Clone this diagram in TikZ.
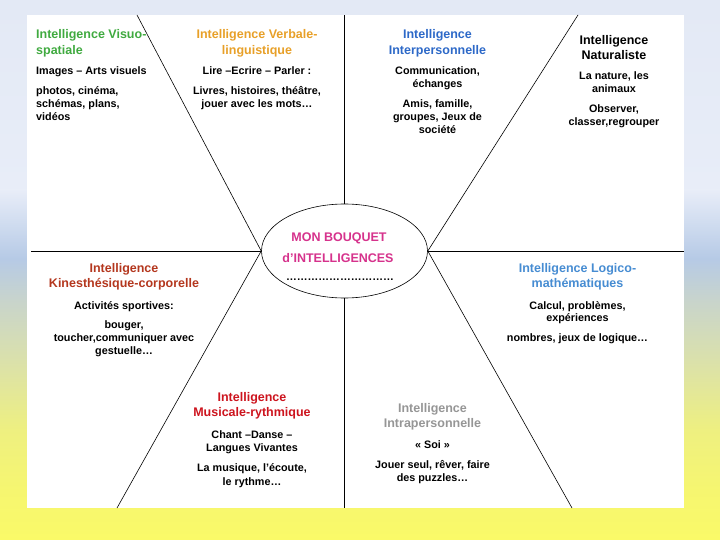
\documentclass[tikz,border=0pt]{standalone}
\usepackage{fontspec}
\setmainfont{Liberation Sans}
\usetikzlibrary{shapes.geometric}
\definecolor{cGreen}{RGB}{64,170,64}
\definecolor{cOrange}{RGB}{232,160,40}
\definecolor{cInter}{RGB}{45,105,200}
\definecolor{cKine}{RGB}{180,55,30}
\definecolor{cMag}{RGB}{214,50,140}
\definecolor{cLogic}{RGB}{70,140,210}
\definecolor{cMusic}{RGB}{205,20,30}
\definecolor{cIntra}{RGB}{150,150,150}
\definecolor{bg0}{HTML}{E3E9F5}
\definecolor{bg1}{HTML}{E8EDF8}
\definecolor{bg2}{HTML}{B6CAE6}
\definecolor{bg3}{HTML}{C8D4CC}
\definecolor{bg4}{HTML}{DCE2A8}
\definecolor{bg5}{HTML}{EEF080}
\definecolor{bg6}{HTML}{F6F670}
\definecolor{bg7}{HTML}{FAFA68}
\begin{document}
\begin{tikzpicture}[x=1pt,y=-1pt,
  hd/.style={font=\bfseries\fontsize{12.5}{14}\selectfont, anchor=base, inner sep=0pt},
  bd/.style={font=\bfseries\fontsize{10.8}{13}\selectfont, anchor=base, inner sep=0pt},
  lft/.style={anchor=base west},
  ray/.style={draw=black, line width=0.6pt}]
\useasboundingbox (0,0) rectangle (720,540);
% background gradient
\shade[top color=bg0, bottom color=bg1, draw=none] (0,0) rectangle (720,190.5);
\shade[top color=bg1, bottom color=bg2, draw=none] (0,190) rectangle (720,258.5);
\shade[top color=bg2, bottom color=bg3, draw=none] (0,258) rectangle (720,300.5);
\shade[top color=bg3, bottom color=bg4, draw=none] (0,300) rectangle (720,365.5);
\shade[top color=bg4, bottom color=bg5, draw=none] (0,365) rectangle (720,430.5);
\shade[top color=bg5, bottom color=bg6, draw=none] (0,430) rectangle (720,490.5);
\shade[top color=bg6, bottom color=bg7, draw=none] (0,490) rectangle (720,540);
% white panel
\fill[white] (27,15) rectangle (684,508);
% center ellipse
\node[draw, line width=0.6pt, ellipse, minimum width=166pt, minimum height=94pt, inner sep=0pt] (bq) at (344.5,251) {};
\coordinate (tl) at (137,15);
\coordinate (bl) at (117,508);
\coordinate (tr) at (578,15);
\coordinate (br) at (572,508);
\coordinate (hl) at (31,251);
\coordinate (hr) at (684,251);
\coordinate (vt) at (344.5,15);
\coordinate (vb) at (344.5,508);
\draw[ray] (bq.west) -- (tl);
\draw[ray] (bq.west) -- (bl);
\draw[ray, line width=0.8pt] (bq.west) -- (hl);
\draw[ray] (bq.east) -- (tr);
\draw[ray] (bq.east) -- (br);
\draw[ray, line width=0.8pt] (bq.east) -- (hr);
\draw[ray, line width=0.8pt] (bq.north) -- (vt);
\draw[ray, line width=0.8pt] (bq.south) -- (vb);
% center text
\node[hd, text=cMag] (c1) at (339,241.5) {MON BOUQUET};
\node[hd, text=cMag] (c2) at (338,262.5) {d’INTELLIGENCES};
\node[bd] (c3) at (340,280) {{…}{…}{…}{…}{…}{…}{…}{…}{…}{…}};
% Visuo-spatiale
\node[hd, lft, text=cGreen] (v1) at (36,38.5) {Intelligence Visuo-};
\node[hd, lft, text=cGreen] (v2) at (36,54.5) {spatiale};
\node[bd, lft] (v3) at (36,75) {Images – Arts visuels};
\node[bd, lft] (v4) at (36,95) {photos, cinéma,};
\node[bd, lft] (v5) at (36,108) {schémas, plans,};
\node[bd, lft] (v6) at (36,121) {vidéos};
% Verbale-linguistique
\node[hd, text=cOrange] (w1) at (257,38.5) {Intelligence Verbale-};
\node[hd, text=cOrange] (w2) at (257,54.5) {linguistique};
\node[bd] (w3) at (257,75) {Lire –Ecrire – Parler :};
\node[bd] (w4) at (257,95) {Livres, histoires, théâtre,};
\node[bd] (w5) at (257,108) {jouer avec les mots…};
% Interpersonnelle
\node[hd, text=cInter] (p1) at (437.5,38.5) {Intelligence};
\node[hd, text=cInter] (p2) at (437.5,54.5) {Interpersonnelle};
\node[bd] (p3) at (437.5,75) {Communication,};
\node[bd] (p4) at (437.5,88) {échanges};
\node[bd] (p5) at (437.5,108) {Amis, famille,};
\node[bd] (p6) at (437.5,121) {groupes, Jeux de};
\node[bd] (p7) at (437.5,134) {société};
% Naturaliste
\node[hd] (n1) at (614,44.5) {Intelligence};
\node[hd] (n2) at (614,59.5) {Naturaliste};
\node[bd] (n3) at (614,80) {La nature, les};
\node[bd] (n4) at (614,93) {animaux};
\node[bd] (n5) at (614,113) {Observer,};
\node[bd] (n6) at (614,126) {classer,regrouper};
% Kinesthesique
\node[hd, text=cKine] (k1) at (124,272.5) {Intelligence};
\node[hd, text=cKine] (k2) at (124,287.5) {Kinesthésique-corporelle};
\node[bd] (k3) at (124,309) {Activités sportives:};
\node[bd] (k4) at (124,328) {bouger,};
\node[bd] (k5) at (124,341) {toucher,communiquer avec};
\node[bd] (k6) at (124,354) {gestuelle…};
% Logico-mathematiques
\node[hd, text=cLogic] (l1) at (577.5,272.5) {Intelligence Logico-};
\node[hd, text=cLogic] (l2) at (577.5,287.5) {mathématiques};
\node[bd] (l3) at (577.5,309) {Calcul, problèmes,};
\node[bd] (l4) at (577.5,321) {expériences};
\node[bd] (l5) at (577.5,341) {nombres, jeux de logique…};
% Musicale-rythmique
\node[hd, text=cMusic] (m1) at (252,401.5) {Intelligence};
\node[hd, text=cMusic] (m2) at (252,416.5) {Musicale-rythmique};
\node[bd] (m3) at (252,438) {Chant –Danse –};
\node[bd] (m4) at (252,451) {Langues Vivantes};
\node[bd] (m5) at (252,471) {La musique, l'écoute,};
\node[bd] (m6) at (252,485) {le rythme…};
% Intrapersonnelle
\node[hd, text=cIntra] (i1) at (432.5,412.5) {Intelligence};
\node[hd, text=cIntra] (i2) at (432.5,427.5) {Intrapersonnelle};
\node[bd] (i3) at (432.5,448) {« Soi »};
\node[bd] (i4) at (432.5,468) {Jouer seul, rêver, faire};
\node[bd] (i5) at (432.5,481) {des puzzles…};
\end{tikzpicture}
\end{document}
